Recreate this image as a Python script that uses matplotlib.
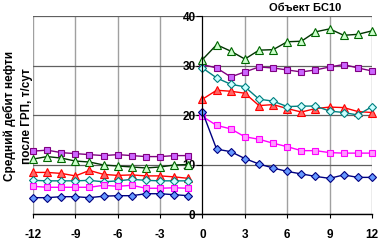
import matplotlib
matplotlib.use("Agg")
import matplotlib.pyplot as plt

plt.rcParams['font.family'] = ['Liberation Sans', 'DejaVu Sans']
plt.rcParams['axes.unicode_minus'] = False

x_before = [-12, -11, -10, -9, -8, -7, -6, -5, -4, -3, -2, -1]
x_after = [0, 1, 2, 3, 4, 5, 6, 7, 8, 9, 10, 11, 12]

purple_before = [12.7, 12.9, 12.4, 12.2, 12.0, 11.8, 12.0, 11.8, 11.6, 11.6, 11.8, 11.8]
purple_after = [30.2, 29.5, 27.7, 28.7, 29.7, 29.5, 29.1, 28.7, 29.1, 29.7, 30.2, 29.5, 28.9]
green_before = [11.1, 11.6, 11.3, 10.7, 10.5, 9.9, 9.7, 9.5, 9.3, 9.5, 9.9, 10.0]
green_after = [31.2, 34.2, 32.9, 31.3, 33.1, 33.2, 34.8, 34.9, 36.8, 37.4, 36.1, 36.3, 37.0]
red_before = [8.4, 8.4, 8.2, 7.7, 8.8, 8.0, 7.8, 7.9, 7.7, 7.7, 7.5, 7.2]
red_after = [23.2, 25.0, 24.8, 24.4, 21.9, 22.1, 21.3, 20.6, 21.3, 21.6, 21.5, 20.7, 20.5]
cyan_before = [6.8, 6.7, 6.7, 6.7, 6.8, 6.5, 6.7, 7.0, 6.8, 6.7, 6.7, 6.7]
cyan_after = [29.5, 27.5, 26.2, 25.7, 23.2, 22.8, 21.7, 21.8, 21.8, 20.8, 20.5, 20.0, 21.7]
magenta_before = [5.6, 5.4, 5.4, 5.4, 5.4, 5.8, 5.6, 5.8, 5.2, 5.2, 5.3, 5.2]
magenta_after = [19.7, 17.9, 17.2, 15.6, 15.1, 14.3, 13.6, 12.8, 12.8, 12.4, 12.3, 12.3, 12.3]
blue_before = [3.3, 3.3, 3.5, 3.5, 3.3, 3.6, 3.7, 3.7, 4.1, 4.1, 3.9, 3.7]
blue_after = [20.6, 13.1, 12.6, 11.2, 10.1, 9.3, 8.6, 8.1, 7.6, 7.2, 7.9, 7.4, 7.4]

x_ticks = [-12, -9, -6, -3, 0, 3, 6, 9, 12]
y_ticks = [0, 10, 20, 30, 40]
title = "Объект БС10"
ylabel = "Средний дебит нефти\nпосле ГРП, т/сут"

series = [
    (purple_before, purple_after, 's', '#800080', '#cc66ff', '#800080', 4.5),
    (green_before, green_after, '^', '#003300', '#ccffcc', '#006600', 5.5),
    (red_before, red_after, '^', '#ff0000', '#ff6666', '#ff0000', 5.5),
    (cyan_before, cyan_after, 'D', '#008080', '#ccffff', '#008080', 3.8),
    (magenta_before, magenta_after, 's', '#ff00ff', '#ff99ff', '#ff00ff', 4.5),
    (blue_before, blue_after, 'D', '#000080', '#6699ff', '#000080', 3.8),
]

fig = plt.figure(figsize=(3.78, 2.41), dpi=100)
ax = fig.add_axes([0.0873, 0.112, 0.8968, 0.8216])
ax.set_xlim(-12, 12)
ax.set_ylim(0, 40)

for before, after, mk, lc, fc, ec, ms in series:
    for xs, ys in ((x_before, before), (x_after, after)):
        ax.plot(xs, ys, color=lc, lw=1.0, marker=mk, markersize=ms,
                markerfacecolor=fc, markeredgecolor=ec, markeredgewidth=0.8,
                clip_on=False, zorder=3)

ax.set_xticks(x_ticks)
ax.set_yticks(y_ticks)
ax.grid(axis='x', color='#a0a0a0', lw=1.0, zorder=1)
ax.grid(axis='y', color='#606060', lw=0.9, zorder=1)
ax.spines['top'].set_visible(False)
ax.spines['right'].set_visible(False)
ax.spines['left'].set_position(('data', 0))
ax.spines['left'].set_zorder(4)
ax.spines['bottom'].set_linewidth(1.0)
ax.tick_params(axis='x', direction='out', length=3, pad=8, labelsize=8.5)
ax.tick_params(axis='y', direction='out', length=4, pad=1, labelsize=8.5)
for lbl in ax.get_xticklabels() + ax.get_yticklabels():
    lbl.set_fontweight('bold')
for lbl in ax.get_yticklabels():
    lbl.set_zorder(10)

fig.text(0.807, 0.968, title, ha='center', va='center', fontsize=8, fontweight='bold')
fig.text(0.048, 0.52, ylabel, ha='center', va='center', rotation=90,
         fontsize=8.5, fontweight='bold', linespacing=1.5)

fig.savefig("out.png", dpi=100)
